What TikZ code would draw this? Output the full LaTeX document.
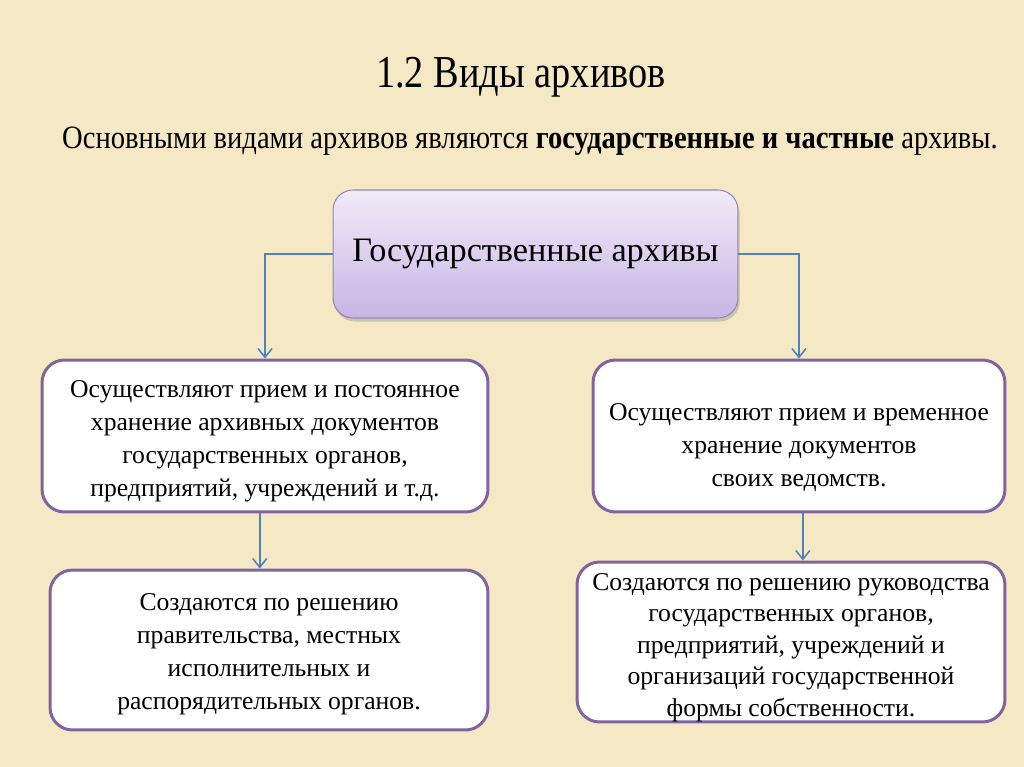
\documentclass[tikz,border=0pt]{standalone}
\usepackage{fontspec}
\setmainfont{Liberation Serif}
\newfontfamily\narrowfont[FakeStretch=0.84]{Liberation Serif}
\newfontfamily\leadfont[FakeStretch=0.88]{Liberation Serif}
\usetikzlibrary{arrows.meta,shadows}
\definecolor{paper}{RGB}{244,233,196}
\definecolor{boxline}{RGB}{128,100,162}
\definecolor{arrowline}{RGB}{79,129,189}
\newcommand{\boxtext}[2]{\raisebox{#1}[\height][\depth]{\begin{tabular}{@{}c@{}}#2\end{tabular}}}

\begin{document}
\begin{tikzpicture}[x=0.02cm, y=-0.02cm,
    wbox/.style={draw=boxline, line width=1.7pt, fill=white, rounded corners=0.45cm,
      align=center, font=\fontsize{14.6}{18.7}\selectfont, inner sep=0},
    gbox/.style={draw=boxline!80, line width=0.6pt, rounded corners=0.4cm,
      top color={rgb,255:red,241;green,235;blue,249},
      bottom color={rgb,255:red,199;green,181;blue,228},
      drop shadow={shadow xshift=1pt, shadow yshift=-2pt, opacity=0.35},
      minimum width=8.1cm, minimum height=2.56cm, font=\fontsize{19.5}{22}\selectfont},
    link/.style={draw=arrowline, line width=0.9pt, -{Straight Barb[length=5pt,width=8pt]}}]
  \fill[paper] (0,0) rectangle (1024,767);
  % titles
  \node (title) at (521,77) {\narrowfont\fontsize{26}{30}\selectfont 1.2 Виды архивов};
  \node (lead) at (530,141) {\leadfont\fontsize{18.5}{22}\selectfont Основными видами архивов являются
    \textbf{государственные и частные} архивы.};
  % boxes
  \node[gbox] (gov) at (535.5,254) {Государственные архивы};
  \node[wbox, minimum width=8.92cm, minimum height=3.04cm] (l1) at (265,436)
    {\boxtext{-0.09cm}{Осуществляют прием и постоянное\\хранение архивных документов\\государственных органов,\\предприятий, учреждений и т.д.}};
  \node[wbox, minimum width=8.24cm, minimum height=3.04cm] (r1) at (799,436)
    {\boxtext{-0.22cm}{Осуществляют прием и временное\\хранение документов\\своих ведомств.}};
  \node[wbox, minimum width=8.76cm, minimum height=3.2cm] (l2) at (269,650)
    {\boxtext{-0.07cm}{Создаются по решению\\правительства, местных\\исполнительных и\\распорядительных органов.}};
  \node[wbox, minimum width=8.56cm, minimum height=3.2cm, font=\fontsize{14.6}{18}\selectfont] (r2) at (791,642)
    {\boxtext{-0.1cm}{Создаются по решению руководства\\государственных органов,\\предприятий, учреждений и\\организаций государственной\\формы собственности.}};
  % connectors
  \draw[link] (gov.west) -| (l1.north);
  \draw[link] (gov.east) -| (r1.north);
  \draw[link] ([xshift=-3pt]l1.south) -- ([xshift=-3pt]l1.south |- l2.north);
  \draw[link] ([xshift=2.2pt]r1.south) -- ([xshift=2.2pt]r1.south |- r2.north);
\end{tikzpicture}
\end{document}
